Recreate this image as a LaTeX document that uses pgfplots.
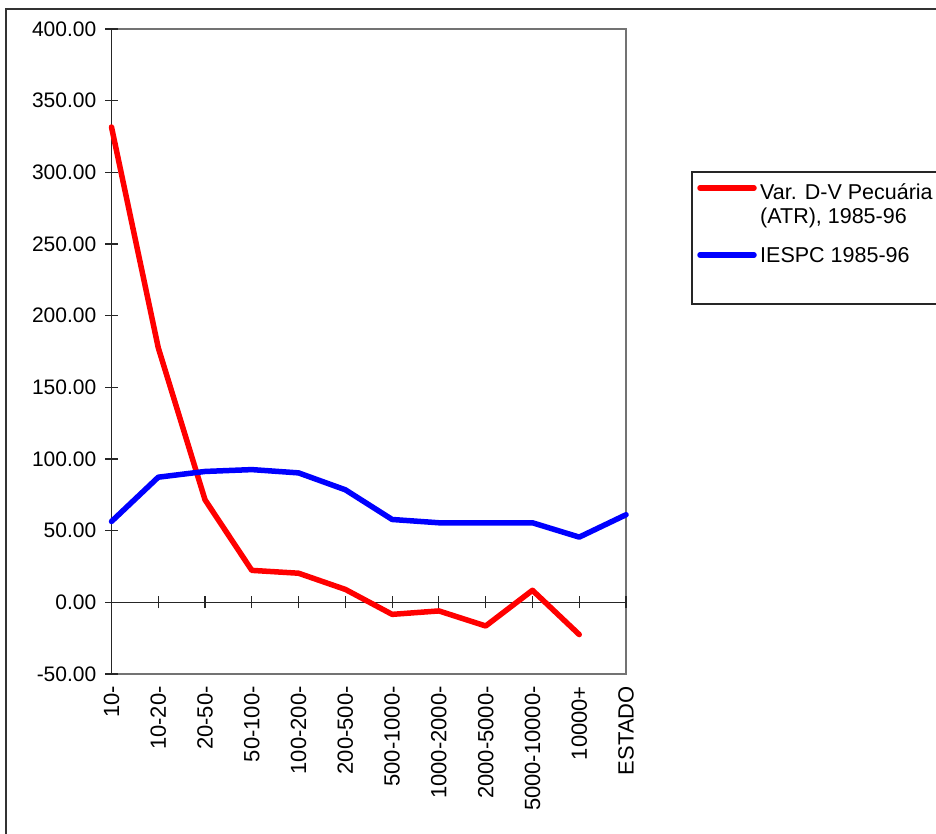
\documentclass[border=0pt]{standalone}
\usepackage{pgfplots}
\pgfplotsset{compat=1.18}
\usepackage{fontspec}
\setmainfont{Liberation Sans}
\begin{document}
\fontsize{21bp}{25bp}\selectfont
\begin{tikzpicture}[x=1bp,y=1bp]
\useasboundingbox (0,0) rectangle (936,834);
\draw[line width=2bp, black!80] (6,-20) -- (6,825) -- (980,825);
% skeleton axis: grey box and category labels
\begin{axis}[
  scale only axis, width=514.5bp, height=645bp,
  at={(111.5bp,160bp)}, anchor=south west,
  xmin=0, xmax=11, ymin=-50, ymax=400,
  axis line style={draw=black!55, line width=1.3bp},
  xtick={0,...,11},
  xticklabels={10-,10-20-,20-50-,50-100-,100-200-,200-500-,500-1000-,1000-2000-,2000-5000-,5000-10000-,10000+,ESTADO},
  xticklabel style={rotate=90, anchor=east, xshift=-5bp, font=\fontsize{22bp}{26bp}\selectfont},
  major tick length=0pt,
  ytick=\empty,
]
\end{axis}
% main axis with data
\begin{axis}[
  scale only axis, width=514.5bp, height=645bp,
  at={(111.5bp,160bp)}, anchor=south west,
  xmin=0, xmax=11, ymin=-50, ymax=400,
  axis x line=middle, axis y line=left,
  axis line style={-, black!85, line width=1.3bp},
  hide obscured x ticks=false, hide obscured y ticks=false,
  xtick={0,...,11}, xticklabel style={opacity=0},
  ytick={-50,0,50,...,400},
  tick align=center, major tick length=12bp,
  tick style={black!85, line width=1.1bp},
  yticklabel style={xshift=-2bp, font=\fontsize{21bp}{25bp}\selectfont, /pgf/number format/.cd, fixed, fixed zerofill, precision=2, assume math mode=true},
  clip=false,
]
\addplot[red, line width=5.5bp, line join=round, line cap=round] coordinates {
(0,331.6) (1,177.6) (2,71.5) (3,22.3) (4,20.3) (5,9) (6,-8.4) (7,-6) (8,-16.5) (9,8.4) (10,-22.5)};
\addplot[blue, line width=5.5bp, line join=round, line cap=round] coordinates {
(0,56.4) (1,87.3) (2,91.3) (3,92.6) (4,90.3) (5,78.5) (6,57.8) (7,55.5) (8,55.5) (9,55.5) (10,45.5) (11,61.1)};
\end{axis}
% legend
\draw[line width=1.3bp, black!85] (980,662) -- (692,662) -- (692,530) -- (980,530);
\draw[red, line width=5.5bp, line cap=round] (700,646) -- (754,646);
\draw[blue, line width=5.5bp, line cap=round] (700,579) -- (754,579);
\node[anchor=base west, inner sep=0pt, font=\fontsize{21.5bp}{25bp}\selectfont] at (760,634) {Var. D-V Pecuária};
\node[anchor=base west, inner sep=0pt, font=\fontsize{21.5bp}{25bp}\selectfont] at (760,610) {(ATR), 1985-96};
\node[anchor=base west, inner sep=0pt, font=\fontsize{21.5bp}{25bp}\selectfont] at (760,571) {IESPC 1985-96};
\end{tikzpicture}
\end{document}
